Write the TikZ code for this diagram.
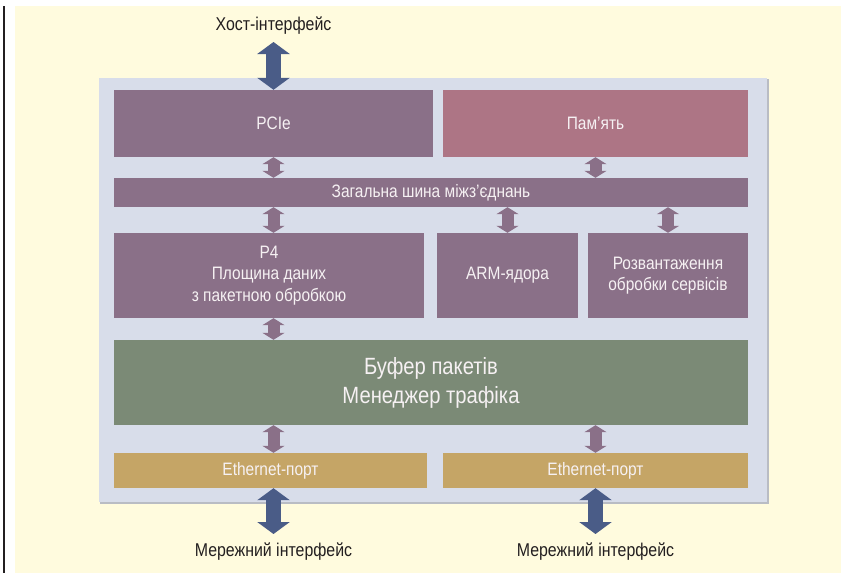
\documentclass[tikz,border=0pt]{standalone}
\usepackage{fontspec}
\setmainfont{Liberation Sans}[FakeStretch=0.86]
\usetikzlibrary{arrows.meta}
\definecolor{pageyellow}{HTML}{FFFBDE}
\definecolor{chipbg}{HTML}{D8DDEA}
\definecolor{chipedge}{HTML}{B9BCC4}
\definecolor{plum}{HTML}{8A7088}
\definecolor{rose}{HTML}{AD7585}
\definecolor{sage}{HTML}{7B8A76}
\definecolor{ochre}{HTML}{C5A566}
\definecolor{steel}{HTML}{4A5C87}
\definecolor{ink}{HTML}{231F20}
\definecolor{paletext}{HTML}{F6F1F3}
\tikzset{
  blk/.style={fill=plum, inner sep=0pt, align=center, text=paletext,
    font=\fontsize{18}{21.5}\selectfont},
  memblk/.style={blk, fill=rose},
  bufblk/.style={blk, fill=sage, font=\fontsize{23.5}{29}\selectfont},
  portblk/.style={blk, fill=ochre},
  caption/.style={text=ink, inner sep=0pt, font=\fontsize{18.5}{20}\selectfont},
  linkarrow/.style={draw=plum, line width=12pt,
    {Triangle[width=22pt,length=7pt]}-{Triangle[width=22pt,length=7pt]}},
  iofarrow/.style={draw=steel, line width=15pt,
    {Triangle[width=32pt,length=12pt]}-{Triangle[width=32pt,length=12pt]}}
}
\begin{document}
\begin{tikzpicture}[x=1pt,y=-1pt]
\useasboundingbox (0,0) rectangle (841,573);
% page
\fill[white] (0,0) rectangle (841,573);
\fill[pageyellow] (15,6) rectangle (841,573);
\fill[ink] (3,6) rectangle (5.2,573);
% chip outline with a soft shadow edge
\fill[chipedge] (100,79) rectangle (768.5,503.5);
\fill[chipbg] (99,78) rectangle (767,502);

% blocks
\node[blk, minimum width=319pt, minimum height=67pt] (pcie) at (273.5,123.5) {PCIe};
\node[memblk, minimum width=305pt, minimum height=67pt] (mem) at (595.5,123.5) {Пам’ять};
\node[blk, minimum width=634pt, minimum height=29pt] (bus) at (431,192.5) {Загальна шина міжз’єднань};
\node[blk, minimum width=310pt, minimum height=85pt] (p4) at (269,275.5) {P4\\Площина даних\\з пакетною обробкою};
\node[blk, minimum width=141pt, minimum height=85pt] (arm) at (507.5,275.5) {ARM-ядора};
\node[blk, minimum width=160pt, minimum height=85pt] (offl) at (668,275.5) {Розвантаження\\обробки сервісів};
\node[bufblk, minimum width=634pt, minimum height=85pt] (buf) at (431,382.5) {Буфер пакетів\\Менеджер трафіка};
\node[portblk, minimum width=313pt, minimum height=35pt] (eth1) at (270.5,470.5) {Ethernet-порт};
\node[portblk, minimum width=305pt, minimum height=35pt] (eth2) at (595.5,470.5) {Ethernet-порт};

% external interfaces
\node[caption] (host) at (273.5,26) {Хост-інтерфейс};
\node[caption] (net1) at (273.5,552) {Мережний інтерфейс};
\node[caption] (net2) at (595.5,552) {Мережний інтерфейс};
\coordinate (hostend) at (273.5,42);
\coordinate (net1end) at (273.5,534);
\coordinate (net2end) at (595.5,534);

% internal links
\draw[linkarrow] (pcie.south) -- (pcie.south |- bus.north);
\draw[linkarrow] (mem.south) -- (mem.south |- bus.north);
\draw[linkarrow] (p4.north -| pcie.south) -- (pcie.south |- bus.south);
\draw[linkarrow] (arm.north) -- (arm.north |- bus.south);
\draw[linkarrow] (offl.north) -- (offl.north |- bus.south);
\draw[linkarrow] (p4.south -| pcie.south) -- (pcie.south |- buf.north);
\draw[linkarrow] (buf.south -| pcie.south) -- (pcie.south |- eth1.north);
\draw[linkarrow] (buf.south -| mem.south) -- (eth2.north);

% interface arrows
\draw[iofarrow] (hostend) -- (pcie.north);
\draw[iofarrow] (eth1.south -| net1end) -- (net1end);
\draw[iofarrow] (eth2.south) -- (net2end);
\end{tikzpicture}
\end{document}
